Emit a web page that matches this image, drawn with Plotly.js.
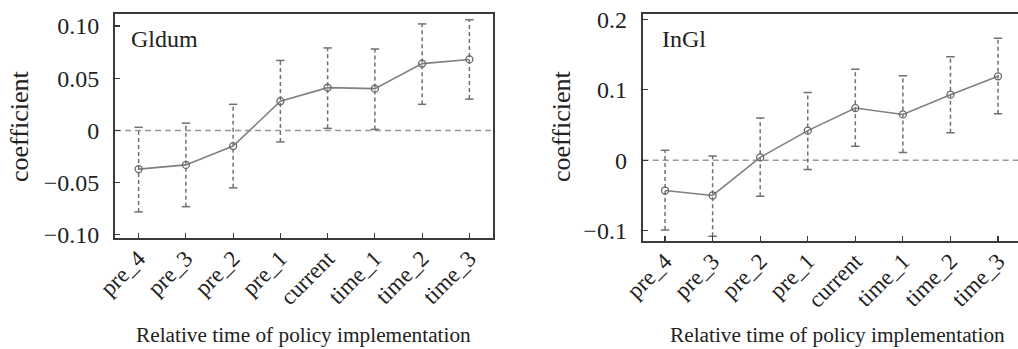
<!DOCTYPE html>
<html><head><meta charset="utf-8">
<script src="https://cdn.plot.ly/plotly-3.0.1.min.js"></script>
<style>html,body{margin:0;padding:0;background:#fff}</style>
</head><body><div id="chart" style="width:1018px;height:349px"></div>
<script>
const categories = ['pre_4','pre_3','pre_2','pre_1','current','time_1','time_2','time_3'];
const gldumCoef  = [-0.037,-0.033,-0.015,0.028,0.041,0.040,0.064,0.068];
const gldumLower = [-0.078,-0.073,-0.055,-0.011,0.002,0.001,0.025,0.030];
const gldumUpper = [0.003,0.007,0.025,0.067,0.079,0.078,0.102,0.106];
const inglCoef   = [-0.043,-0.050,0.004,0.042,0.074,0.065,0.093,0.119];
const inglLower  = [-0.099,-0.108,-0.051,-0.013,0.020,0.011,0.039,0.066];
const inglUpper  = [0.014,0.006,0.060,0.096,0.129,0.120,0.147,0.173];
const panelNames = ['Gldum','InGl'];
const yTickVals1 = [-0.10,-0.05,0,0.05,0.10];
const yTickText1 = ['\u22120.10','\u22120.05','0','0.05','0.10'];
const yTickVals2 = [-0.1,0,0.1,0.2];
const yTickText2 = ['\u22120.1','0','0.1','0.2'];
const xTitle = 'Relative time of policy implementation';
const yTitle = 'coefficient';

const FONT = 'Liberation Serif';
const GRAY = '#707070';

function ciTrace(lower, upper, xa, ya){
  const xs=[], ys=[];
  categories.forEach((c,i)=>{ xs.push(c,c,null); ys.push(lower[i],upper[i],null); });
  return {x:xs,y:ys,xaxis:xa,yaxis:ya,type:'scatter',mode:'lines+markers',
    line:{color:GRAY,width:1.5,dash:'4px,3px'},
    marker:{symbol:'line-ew',size:6,line:{color:GRAY,width:1.5}},
    connectgaps:false,hoverinfo:'skip',showlegend:false};
}
function coefTrace(coef, xa, ya){
  return {x:categories,y:coef,xaxis:xa,yaxis:ya,type:'scatter',mode:'lines+markers',
    line:{color:'#808080',width:1.6},
    marker:{symbol:'circle-open',size:7,color:'#666',line:{width:1.3,color:'#666'}},
    showlegend:false};
}
const data = [
  ciTrace(gldumLower,gldumUpper,'x','y'), coefTrace(gldumCoef,'x','y'),
  ciTrace(inglLower,inglUpper,'x2','y2'), coefTrace(inglCoef,'x2','y2')
];
const W=1018,H=349;
function xax(domain, range, mirror){
  return {domain:domain,range:range,type:'category',categoryorder:'array',categoryarray:categories,
    showline:true,linecolor:'#3a3a3a',linewidth:2,mirror:mirror,
    ticks:'inside',ticklen:5,tickwidth:1.2,tickcolor:'#3a3a3a',tickangle:-45,ticklabelstandoff:-4,
    showgrid:false,zeroline:false,tickfont:{family:FONT,size:23,color:'#222'},automargin:false};
}
function yax(domain, range, vals, text, mirror, anchor){
  return {domain:domain,range:range,anchor:anchor,tickvals:vals,ticktext:text,
    showline:true,linecolor:'#3a3a3a',linewidth:2,mirror:mirror,
    ticks:'inside',ticklen:5,tickwidth:1.2,tickcolor:'#3a3a3a',ticklabelstandoff:9,
    showgrid:false,zeroline:false,tickfont:{family:FONT,size:24,color:'#222'},automargin:false};
}
const layout = {
  width:W,height:H,margin:{l:0,r:0,t:0,b:0},paper_bgcolor:'#fff',plot_bgcolor:'#fff',
  font:{family:FONT,color:'#222'},showlegend:false,
  xaxis: Object.assign(xax([115/W,493/W],[-0.5,7.5],true),{anchor:'y'}),
  yaxis: yax([1-238/H,1-14/H],[-0.103,0.1115],yTickVals1,yTickText1,true,'x'),
  xaxis2: Object.assign(xax([642.7/W,1],[-0.47,7.42],true),{anchor:'y2'}),
  yaxis2: yax([1-240.7/H,1-14/H],[-0.1142,0.2075],yTickVals2,yTickText2,false,'x2'),
  shapes:[
    {type:'line',xref:'x domain',yref:'y',x0:0,x1:1,y0:0,y1:0,line:{color:'#999',width:1.5,dash:'6px,4px'},layer:'below'},
    {type:'line',xref:'x2 domain',yref:'y2',x0:0,x1:1,y0:0,y1:0,line:{color:'#999',width:1.5,dash:'6px,4px'},layer:'below'}
  ],
  annotations:[
    {text:panelNames[0],xref:'paper',yref:'paper',x:129/W,y:1-39/H,xanchor:'left',yanchor:'middle',showarrow:false,font:{family:FONT,size:24,color:'#222'}},
    {text:panelNames[1],xref:'paper',yref:'paper',x:660/W,y:1-39/H,xanchor:'left',yanchor:'middle',showarrow:false,font:{family:FONT,size:24,color:'#222'}},
    {text:yTitle,xref:'paper',yref:'paper',x:20/W,y:1-127/H,textangle:-90,xanchor:'center',yanchor:'middle',showarrow:false,font:{family:FONT,size:26,color:'#222'}},
    {text:yTitle,xref:'paper',yref:'paper',x:562/W,y:1-127/H,textangle:-90,xanchor:'center',yanchor:'middle',showarrow:false,font:{family:FONT,size:26,color:'#222'}},
    {text:xTitle,xref:'paper',yref:'paper',x:303/W,y:1-335/H,xanchor:'center',yanchor:'middle',showarrow:false,font:{family:FONT,size:21.3,color:'#222'}},
    {text:xTitle,xref:'paper',yref:'paper',x:837/W,y:1-335/H,xanchor:'center',yanchor:'middle',showarrow:false,font:{family:FONT,size:21.3,color:'#222'}}
  ]
};
Plotly.newPlot('chart',data,layout,{staticPlot:true,displayModeBar:false});
</script></body></html>
